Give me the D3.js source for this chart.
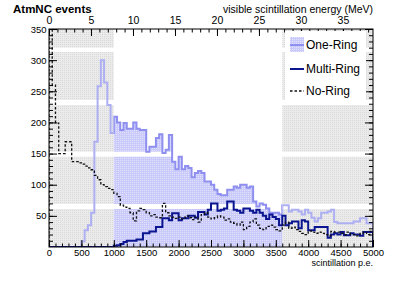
<!DOCTYPE html>
<html>
<head>
<meta charset="utf-8">
<script src="https://cdn.jsdelivr.net/npm/d3@7"></script>
<style>
  body { margin: 0; background: #fff; }
  svg { display: block; font-family: "Liberation Sans", Arial, sans-serif; }
</style>
</head>
<body>
<div id="chart"></div>
<script>
// Histogram contents, 50 p.e. per bin from 0 to 5000
var binWidth = 50;
var oneRing = [0,0,0,0,0,0,0,0,0,0,
  9,27,35,55,169,258,300,264,228,183,
  209,200,188,199,190,190,200,190,188,188,
  153,161,161,175,181,151,156,180,137,125,
  145,125,130,127,112,119,122,119,105,105,
  100,92,85,83,83,92,92,97,95,100,
  100,95,97,73,65,70,68,62,55,55,
  55,52,67,67,57,60,60,57,52,60,
  55,47,41,46,55,55,57,60,40,38,
  38,38,38,38,41,41,46,46,38,38];
var multiRing = [0,0,0,0,0,0,0,0,0,0,
  0,0,0,0,0,0,0,0,0,0,
  2,3,5,8,10,10,10,12,12,22,
  22,25,25,32,32,46,46,43,54,54,
  43,46,46,50,50,47,56,56,52,60,
  70,70,58,60,62,73,73,60,58,55,
  62,62,58,55,60,55,50,45,52,48,
  45,35,50,35,38,41,41,30,43,41,
  27,27,32,32,32,32,15,20,22,20,
  24,19,19,22,20,20,18,24,24,24];
var noRing = [360,260,199,150,150,169,169,137,137,135,
  133,130,127,124,115,108,100,97,94,92,
  86,81,67,64,62,55,42,58,62,60,
  55,50,52,48,47,70,55,50,48,46,
  48,45,50,47,44,48,40,52,55,48,
  45,47,50,48,43,45,40,38,35,40,
  28,33,40,45,35,30,28,33,35,32,
  28,26,35,40,30,32,28,25,22,20,
  26,24,22,24,22,20,18,25,24,24,
  22,20,24,20,20,18,22,24,20,25];

// Tick labels
var yTicks = [50, 100, 150, 200, 250, 300, 350];
var peTicks = [0, 500, 1000, 1500, 2000, 2500, 3000, 3500, 4000, 4500, 5000];
var mevTicks = [0, 5, 10, 15, 20, 25, 30, 35];
var peToMeV = 129.6;

// Shaded (excluded) regions and the white cuts through them
var shadeRegions = [[0, 1000], [3600, 5000]];
var selectWindow = [1000, 3600];
var bandGaps = [[313, 320], [228, 236], [145, 153], [61, 69]];

var legendNames = ["One-Ring", "Multi-Ring", "No-Ring"];

drawChart();

function drawChart() {
  var width = 415, height = 281;
  var fL = 49, fR = 373, fT = 29, fB = 247;

  var svg = d3.select("#chart").append("svg")
      .attr("width", width)
      .attr("height", height);

  var defs = svg.append("defs");

  // dotted fill patterns
  var grayPat = defs.append("pattern").attr("id", "grayDots")
      .attr("width", 2).attr("height", 2).attr("patternUnits", "userSpaceOnUse");
  grayPat.append("rect").attr("width", 2).attr("height", 2).attr("fill", "#ebebeb");
  grayPat.append("rect").attr("width", 1).attr("height", 1).attr("fill", "#d9d9d9");

  var bluePat = defs.append("pattern").attr("id", "blueDots")
      .attr("width", 2).attr("height", 2).attr("patternUnits", "userSpaceOnUse");
  bluePat.append("rect").attr("width", 2).attr("height", 2).attr("fill", "#c9c9fa");
  bluePat.append("rect").attr("width", 1).attr("height", 1).attr("fill", "#e2e2fd");

  defs.append("clipPath").attr("id", "frameClip")
    .append("rect").attr("x", fL).attr("y", fT)
      .attr("width", fR - fL).attr("height", fB - fT);

  var x = d3.scaleLinear().domain([0, 5000]).range([fL, fR]);
  var xE = d3.scaleLinear().domain([0, 5000 / peToMeV]).range([fL, fR]);
  var y = d3.scaleLinear().domain([0, 350]).range([fB, fT]);

  defs.append("clipPath").attr("id", "insideClip")
    .append("rect").attr("x", x(selectWindow[0])).attr("y", fT)
      .attr("width", x(selectWindow[1]) - x(selectWindow[0])).attr("height", fB - fT);

  var outsideClip = defs.append("clipPath").attr("id", "outsideClip");
  shadeRegions.forEach(function(r) {
    outsideClip.append("rect").attr("x", x(r[0])).attr("y", fT)
      .attr("width", x(r[1]) - x(r[0])).attr("height", fB - fT);
  });

  function stepPoints(values) {
    var pts = [[0, 0]];
    values.forEach(function(v, i) { pts.push([i * binWidth, v]); });
    pts.push([values.length * binWidth, values[values.length - 1]]);
    pts.push([values.length * binWidth, 0]);
    return pts;
  }

  var line = d3.line()
      .x(function(d) { return x(d[0]); })
      .y(function(d) { return y(d[1]); })
      .curve(d3.curveStepAfter);

  var plot = svg.append("g").attr("clip-path", "url(#frameClip)");

  // gray boxes
  plot.selectAll(".shade")
    .data(shadeRegions)
    .enter()
    .append("rect")
      .attr("class", "shade")
      .attr("x", function(d) { return x(d[0]); })
      .attr("y", fT)
      .attr("width", function(d) { return x(d[1]) - x(d[0]); })
      .attr("height", fB - fT)
      .attr("fill", "url(#grayDots)");

  // One-Ring fill, only inside the selection window
  var fillBins = oneRing.map(function(v, i) { return [i * binWidth, v]; })
    .filter(function(d) { return d[0] >= selectWindow[0] && d[0] < selectWindow[1]; });
  fillBins.push([selectWindow[1], fillBins[fillBins.length - 1][1]]);
  var area = d3.area()
      .x(function(d) { return x(d[0]); })
      .y0(y(0))
      .y1(function(d) { return y(d[1]); })
      .curve(d3.curveStepAfter);
  plot.append("path")
    .datum(fillBins)
    .attr("d", area)
    .attr("fill", "url(#blueDots)");

  // white cuts
  plot.selectAll(".gap")
    .data(bandGaps)
    .enter()
    .append("rect")
      .attr("class", "gap")
      .attr("x", fL)
      .attr("y", function(d) { return y(d[1]); })
      .attr("width", fR - fL)
      .attr("height", function(d) { return y(d[0]) - y(d[1]); })
      .attr("fill", "#fff");

  // One-Ring line, lighter where it sits under the gray boxes
  plot.append("path")
    .datum(stepPoints(oneRing))
    .attr("d", line)
    .attr("clip-path", "url(#insideClip)")
    .attr("fill", "none")
    .attr("stroke", "#8f8ff0")
    .attr("stroke-width", 2);
  plot.append("path")
    .datum(stepPoints(oneRing))
    .attr("d", line)
    .attr("clip-path", "url(#outsideClip)")
    .attr("fill", "none")
    .attr("stroke", "#adaff2")
    .attr("stroke-width", 2);

  plot.append("path")
    .datum(stepPoints(multiRing))
    .attr("d", line)
    .attr("fill", "none")
    .attr("stroke", "#0b1590")
    .attr("stroke-width", 2);

  plot.append("path")
    .datum(stepPoints(noRing))
    .attr("d", line)
    .attr("fill", "none")
    .attr("stroke", "#111")
    .attr("stroke-width", 1.3)
    .attr("stroke-dasharray", "2.5,2");

  // Axes
  function styleAxis(g) {
    g.select(".domain").remove();
    g.selectAll("line").attr("stroke", "#000");
    g.selectAll("text").attr("fill", "#000");
  }

  svg.append("g")
    .attr("transform", "translate(0," + fB + ")")
    .call(d3.axisBottom(x).tickValues(d3.range(0, 5001, 100)).tickSize(-3.5).tickSizeOuter(0).tickFormat(""))
    .call(styleAxis);
  svg.append("g")
    .attr("transform", "translate(0," + fB + ")")
    .call(d3.axisBottom(x).tickValues(peTicks).tickSize(-7).tickSizeOuter(0).tickPadding(2).tickFormat(d3.format("d")))
    .call(styleAxis)
    .selectAll("text").style("font-size", "9.5px");

  svg.append("g")
    .attr("transform", "translate(0," + fT + ")")
    .call(d3.axisTop(xE).tickValues(d3.range(0, 39, 1)).tickSize(-3.5).tickSizeOuter(0).tickFormat(""))
    .call(styleAxis);
  svg.append("g")
    .attr("transform", "translate(0," + fT + ")")
    .call(d3.axisTop(xE).tickValues(mevTicks).tickSize(-7).tickSizeOuter(0).tickPadding(5).tickFormat(d3.format("d")))
    .call(styleAxis)
    .selectAll("text").style("font-size", "10.5px");

  svg.append("g")
    .attr("transform", "translate(" + fL + ",0)")
    .call(d3.axisLeft(y).tickValues(d3.range(10, 351, 10)).tickSize(-4).tickSizeOuter(0).tickFormat(""))
    .call(styleAxis);
  svg.append("g")
    .attr("transform", "translate(" + fL + ",0)")
    .call(d3.axisLeft(y).tickValues(yTicks).tickSize(-8).tickSizeOuter(0).tickPadding(2.5).tickFormat(d3.format("d")))
    .call(styleAxis)
    .selectAll("text").style("font-size", "9.5px");

  svg.append("g")
    .attr("transform", "translate(" + fR + ",0)")
    .call(d3.axisRight(y).tickValues(d3.range(10, 351, 10)).tickSize(-4).tickSizeOuter(0).tickFormat(""))
    .call(styleAxis);
  svg.append("g")
    .attr("transform", "translate(" + fR + ",0)")
    .call(d3.axisRight(y).tickValues(yTicks).tickSize(-8).tickSizeOuter(0).tickFormat(""))
    .call(styleAxis);

  // frame
  svg.append("rect")
    .attr("x", fL).attr("y", fT)
    .attr("width", fR - fL).attr("height", fB - fT)
    .attr("fill", "none")
    .attr("stroke", "#000")
    .attr("stroke-width", 1);

  // Titles
  svg.append("text")
    .attr("x", 13).attr("y", 13)
    .style("font-size", "11.5px").style("font-weight", "bold")
    .text("AtmNC events");
  svg.append("text")
    .attr("x", fR).attr("y", 12.5)
    .attr("text-anchor", "end")
    .style("font-size", "10.5px")
    .text("visible scintillation energy (MeV)");
  svg.append("text")
    .attr("x", fR).attr("y", 266)
    .attr("text-anchor", "end")
    .style("font-size", "9px")
    .text("scintillation p.e.");

  // Legend
  var legend = svg.append("g");
  legend.append("rect")
    .attr("x", 285).attr("y", 31)
    .attr("width", 81).attr("height", 72)
    .attr("fill", "#fff");

  var legendRows = [45, 69, 91];
  var items = legend.selectAll(".item")
    .data(legendNames)
    .enter()
    .append("g")
      .attr("class", "item")
      .attr("transform", function(d, i) { return "translate(290," + legendRows[i] + ")"; });

  items.filter(function(d, i) { return i == 0; })
    .append("rect")
      .attr("x", 0).attr("y", -8)
      .attr("width", 14).attr("height", 15)
      .attr("fill", "url(#blueDots)");

  items.append("line")
    .attr("x1", 0).attr("x2", 14)
    .attr("y1", 0).attr("y2", 0)
    .attr("stroke", function(d, i) { return ["#8f8ff0", "#0b1590", "#111"][i]; })
    .attr("stroke-width", function(d, i) { return [2, 2, 1.3][i]; })
    .attr("stroke-dasharray", function(d, i) { return i == 2 ? "2.5,2" : null; });

  items.append("text")
    .attr("x", 16).attr("y", 4)
    .style("font-size", "12px")
    .text(function(d) { return d; });
}
</script>
</body>
</html>
